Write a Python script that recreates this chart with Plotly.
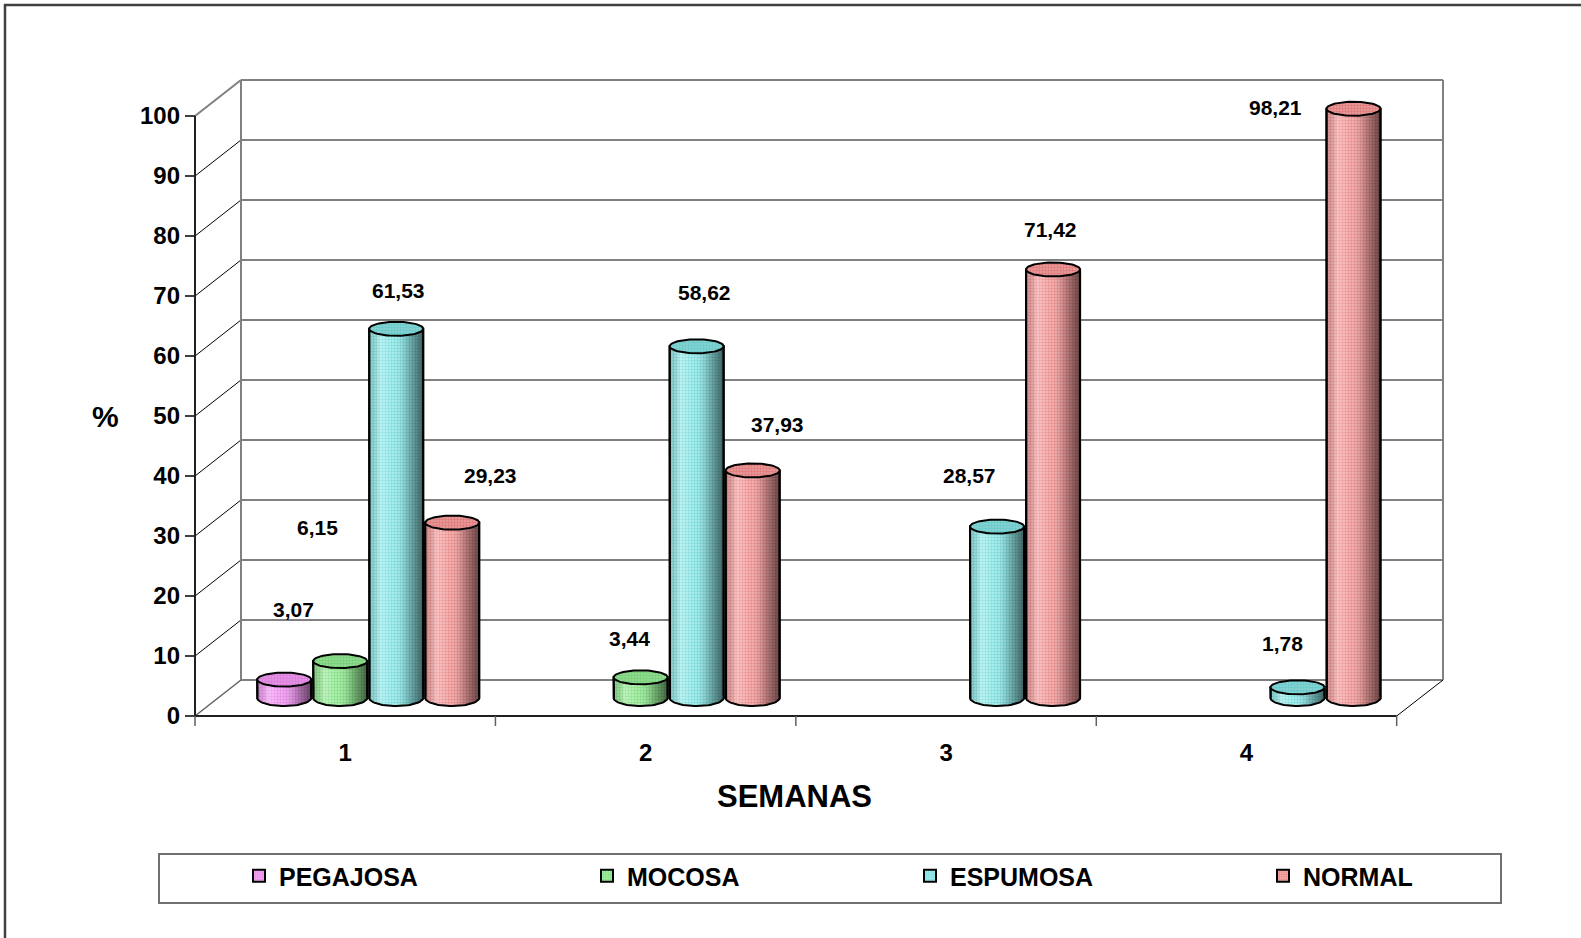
import numpy as np
import plotly.graph_objects as go

# ---------------- data ----------------
WEEKS = ["1", "2", "3", "4"]
SERIES = ["PEGAJOSA", "MOCOSA", "ESPUMOSA", "NORMAL"]
pegajosa = [3.07, None, None, None]
mocosa = [6.15, 3.44, None, None]
espumosa = [61.53, 58.62, 28.57, 1.78]
normal = [29.23, 37.93, 71.42, 98.21]
Y_TICKS = list(range(0, 101, 10))

VALUES = {"PEGAJOSA": pegajosa, "MOCOSA": mocosa,
          "ESPUMOSA": espumosa, "NORMAL": normal}

# value label placement (pixels right / up from the top of each cylinder)
LABEL_SHIFT = {
    "PEGAJOSA": [(9, 70), None, None, None],
    "MOCOSA": [(-23, 134), (-11, 39), None, None],
    "ESPUMOSA": [(2, 38), (8, 54), (-28, 51), (-15, 44)],
    "NORMAL": [(38, 47), (25, 46), (-3, 40), (-78, 1)],
}

# fill colours: body background, dot colour, cap background
COLORS = {
    "PEGAJOSA": ("#F4B0F4", "#DC58DC", "#E09CE0"),
    "MOCOSA": ("#B0F2B0", "#48C448", "#9CDC9C"),
    "ESPUMOSA": ("#B0F2F2", "#38C0C0", "#90D4D4"),
    "NORMAL": ("#F6B8B8", "#DE5050", "#E6A0A0"),
}

# left edge (px) of each legend entry
LEGEND_X = [239, 587, 910, 1263]

FONT = "Liberation Sans"

# ---------------- geometry of the 3-D frame (pixels) ----------------
W, H = 1581, 938
PLOT_L, PLOT_R, PLOT_T, PLOT_B = 195, 1443, 80, 716
FRONT_L, FRONT_R = 195, 1396.7
FRONT_ZERO = 716
PX_PER_UNIT = 6.0
DEPTH_X, DEPTH_Y = 46, 36
CAT_PX = (FRONT_R - FRONT_L) / len(WEEKS)
PLOT_W = PLOT_R - PLOT_L
PLOT_H = PLOT_B - PLOT_T

SLOT = 56 / CAT_PX          # distance between cylinders of a week
HALF_W = 27 / CAT_PX        # cylinder radius (x units)
TOP_RY = 7 / PX_PER_UNIT    # cap ellipse half height (y units)
BOT_RY = 8 / PX_PER_UNIT


def pxx(x):
    return (x - PLOT_L) / PLOT_W


def pxy(y):
    return (PLOT_B - y) / PLOT_H


# axis ranges: front face and mid-depth (bars)
front_x = [-0.5, -0.5 + PLOT_W / CAT_PX]
mid_x0 = -0.5 - (DEPTH_X / 2) / CAT_PX
mid_x = [mid_x0, mid_x0 + PLOT_W / CAT_PX]
front_y = [0, PLOT_H / PX_PER_UNIT]
mid_y0 = -(DEPTH_Y / 2) / PX_PER_UNIT
mid_y = [mid_y0, mid_y0 + PLOT_H / PX_PER_UNIT]

fig = go.Figure()

theta = np.linspace(0, 2 * np.pi, 73)
arc = np.linspace(np.pi, 2 * np.pi, 37)

bars_x = np.arange(len(WEEKS))
caps_bottom, shells, caps_top = [], [], []

for k, name in enumerate(SERIES):
    body, dots, cap = COLORS[name]
    off = (k - 1.5) * SLOT
    vals = VALUES[name]
    fig.add_trace(go.Bar(
        name=name, x=bars_x, y=vals,
        offset=off - HALF_W, width=2 * HALF_W,
        legend="legend" if k == 0 else f"legend{k + 1}",
        marker=dict(color=body,
                    line=dict(color="black", width=2),
                    pattern=dict(shape=".", bgcolor=body, fgcolor=dots,
                                 size=3, solidity=0.5)),
        hoverinfo="skip",
    ))
    bx, by, tx, ty = [], [], [], []
    for i, v in enumerate(vals):
        if v is None:
            continue
        cx = i + off
        bx += list(cx + HALF_W * np.cos(theta)) + [None]
        by += list(BOT_RY * np.sin(theta)) + [None]
        tx += list(cx + HALF_W * np.cos(theta)) + [None]
        ty += list(v + TOP_RY * np.sin(theta)) + [None]
        sx = [cx - HALF_W] + list(cx + HALF_W * np.cos(arc)) + [cx + HALF_W, cx - HALF_W]
        sy = [v] + list(BOT_RY * np.sin(arc)) + [v, v]
        shells.append((sx, sy))
    caps_bottom.append(go.Scatter(
        x=bx, y=by, mode="none", fill="toself", fillcolor=body,
        fillpattern=dict(shape=".", bgcolor=body, fgcolor=dots, size=3, solidity=0.5),
        showlegend=False, hoverinfo="skip"))
    caps_top.append(go.Scatter(
        x=tx, y=ty, mode="lines", fill="toself", fillcolor=cap,
        fillpattern=dict(shape=".", bgcolor=cap, fgcolor=dots, size=3, solidity=0.5),
        line=dict(color="black", width=2),
        showlegend=False, hoverinfo="skip"))

for tr in caps_bottom:
    fig.add_trace(tr)

# cylinder shading: soft highlight left of centre, dark towards the right edge
shade = [[0.0, "rgba(0,0,0,0.12)"], [0.2, "rgba(255,255,255,0.30)"],
         [0.45, "rgba(255,255,255,0.05)"], [0.72, "rgba(0,0,0,0.22)"],
         [1.0, "rgba(0,0,0,0.58)"]]
for sx, sy in shells:
    fig.add_trace(go.Scatter(
        x=sx, y=sy, mode="lines", fill="toself",
        fillgradient=dict(type="horizontal", colorscale=shade),
        line=dict(color="black", width=2),
        showlegend=False, hoverinfo="skip"))

for tr in caps_top:
    fig.add_trace(tr)

# empty trace so the front-face axes (x2/y2) form a drawn subplot
fig.add_trace(go.Scatter(x=[0], y=[0], xaxis="x2", yaxis="y2", mode="markers",
                         marker=dict(opacity=0), showlegend=False, hoverinfo="skip"))

# ---------------- value labels ----------------
annotations = []
for k, name in enumerate(SERIES):
    off = (k - 1.5) * SLOT
    for i, v in enumerate(VALUES[name]):
        if v is None:
            continue
        dx, dy = LABEL_SHIFT[name][i]
        annotations.append(dict(
            x=i + off, y=v, xref="x", yref="y", xshift=dx, yshift=dy,
            xanchor="center", yanchor="middle",
            text=f"{v:.2f}".replace(".", ","), showarrow=False,
            font=dict(family=FONT, size=21, color="black", weight="bold")))

annotations.append(dict(
    x=pxx(794.5), y=pxy(796.5), xref="paper", yref="paper",
    xanchor="center", yanchor="middle",
    text="SEMANAS", showarrow=False,
    font=dict(family=FONT, size=31, color="black", weight="bold")))
annotations.append(dict(
    x=pxx(105), y=pxy(416.5), xref="paper", yref="paper",
    xanchor="center", yanchor="middle",
    text="%", showarrow=False,
    font=dict(family=FONT, size=30, color="black", weight="bold")))

# ---------------- frame: walls, floor, axis lines ----------------
shapes = []
GRID = "#808080"


def seg(x0, y0, x1, y1, color, width):
    shapes.append(dict(type="line", xref="paper", yref="paper",
                       x0=pxx(x0), y0=pxy(y0), x1=pxx(x1), y1=pxy(y1),
                       line=dict(color=color, width=width), layer="below"))


back_l = FRONT_L + DEPTH_X
for t in Y_TICKS:
    yb = FRONT_ZERO - DEPTH_Y - t * PX_PER_UNIT
    yf = FRONT_ZERO - t * PX_PER_UNIT
    seg(back_l, yb, PLOT_R, yb, GRID, 2)
    if t == Y_TICKS[-1]:
        seg(FRONT_L, yf, back_l, yb, GRID, 2)
    elif t == 0:
        seg(FRONT_L, yf, back_l, yb, "#606060", 1.5)
    else:
        seg(FRONT_L, yf, back_l, yb, "black", 1)
    seg(FRONT_L - 10, yf, FRONT_L, yf, "black", 1.5)

top_b = FRONT_ZERO - DEPTH_Y - Y_TICKS[-1] * PX_PER_UNIT
seg(back_l, top_b, back_l, FRONT_ZERO - DEPTH_Y, GRID, 2)
seg(PLOT_R, top_b, PLOT_R, FRONT_ZERO - DEPTH_Y, GRID, 2)
seg(FRONT_L, FRONT_ZERO - Y_TICKS[-1] * PX_PER_UNIT, FRONT_L, FRONT_ZERO, "#202020", 2)
seg(FRONT_L, FRONT_ZERO, FRONT_R, FRONT_ZERO, "#202020", 2)
seg(FRONT_R, FRONT_ZERO, PLOT_R, FRONT_ZERO - DEPTH_Y, "black", 1)
for i in range(len(WEEKS) + 1):
    xs = FRONT_L + i * CAT_PX
    seg(xs, FRONT_ZERO, xs, FRONT_ZERO + 10, "#606060", 1.5)

# outer chart border and legend box
seg(4, 5, 1600, 5, "#404040", 2.5)
seg(5, 4, 5, 960, "#404040", 2.5)
shapes.append(dict(type="rect", xref="paper", yref="paper",
                   x0=pxx(159), x1=pxx(1501), y0=pxy(903), y1=pxy(854),
                   line=dict(color="#707070", width=2), layer="below"))

legend_style = dict(orientation="h", yanchor="middle", xanchor="left",
                    y=pxy(876),
                    font=dict(family=FONT, size=25, color="black", weight="bold"),
                    bgcolor="rgba(0,0,0,0)", itemclick=False, itemdoubleclick=False)
legends = {}
for k, lx in enumerate(LEGEND_X):
    key = "legend" if k == 0 else f"legend{k + 1}"
    legends[key] = dict(legend_style, x=pxx(lx))

fig.update_layout(
    width=W, height=H,
    margin=dict(l=PLOT_L, r=W - PLOT_R, t=PLOT_T, b=H - PLOT_B, autoexpand=False),
    paper_bgcolor="white", plot_bgcolor="white",
    barmode="overlay",
    showlegend=True,
    xaxis=dict(range=mid_x, visible=False, fixedrange=True),
    yaxis=dict(range=mid_y, visible=False, fixedrange=True),
    xaxis2=dict(range=front_x, overlaying="x", anchor="y2", side="bottom",
                tickvals=list(range(len(WEEKS))), ticktext=WEEKS,
                ticks="outside", ticklen=15, tickcolor="rgba(0,0,0,0)",
                showgrid=False, zeroline=False, showline=False, fixedrange=True,
                tickfont=dict(family=FONT, size=24, color="black", weight="bold")),
    yaxis2=dict(range=front_y, overlaying="y", anchor="x2", side="left",
                tickvals=Y_TICKS, ticks="", showgrid=False, zeroline=False,
                showline=False, ticklabelstandoff=14, fixedrange=True,
                tickfont=dict(family=FONT, size=24, color="black", weight="bold")),
    shapes=shapes,
    annotations=annotations,
    **legends,
)

fig.write_html("out.html")
